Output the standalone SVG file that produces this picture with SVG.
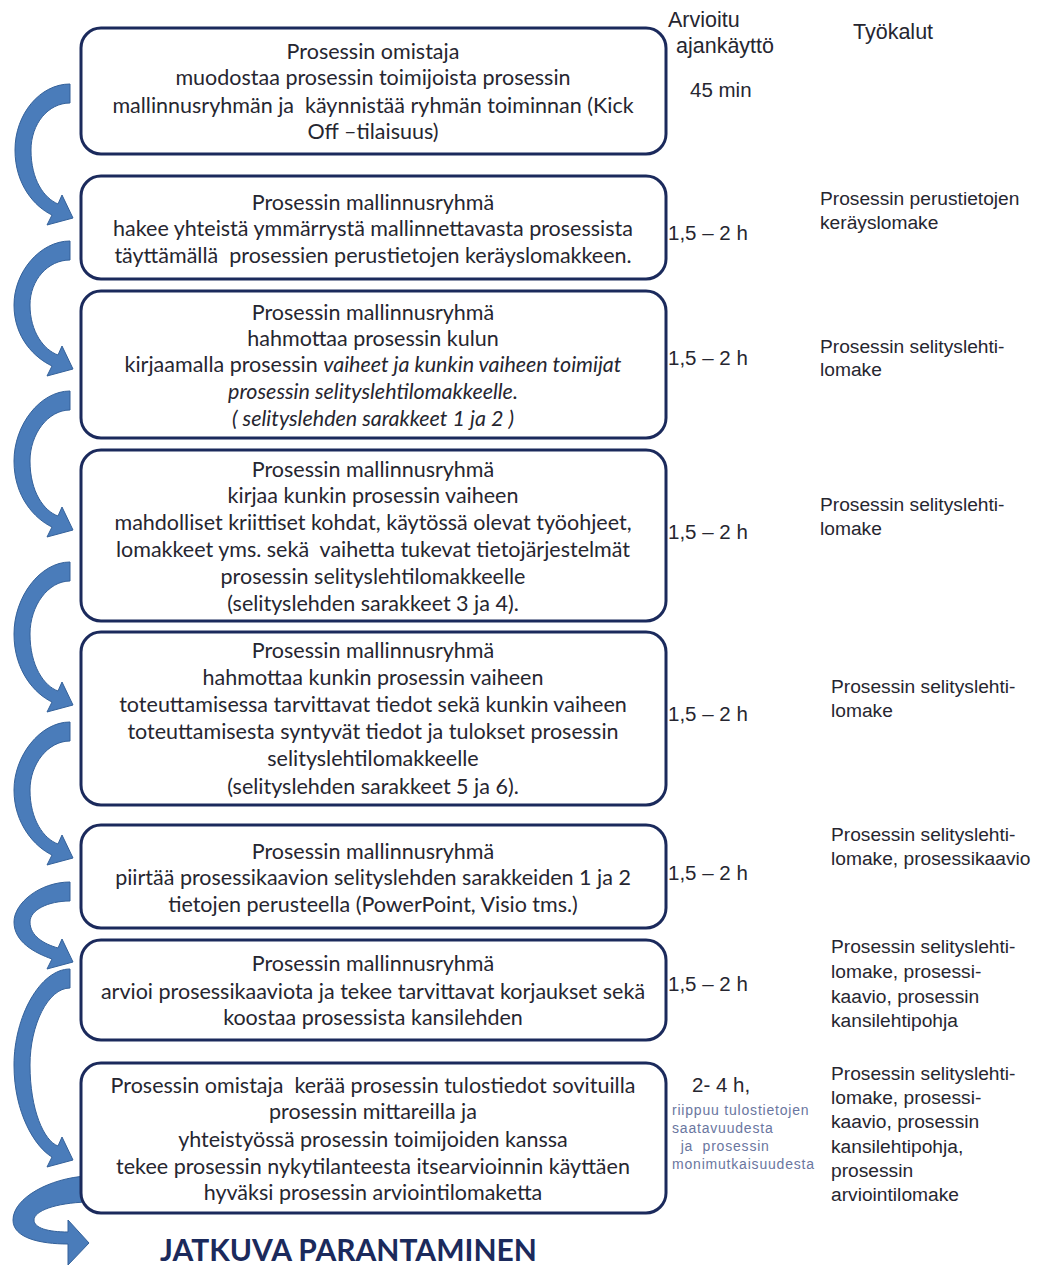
<svg xmlns="http://www.w3.org/2000/svg" width="1052" height="1265" viewBox="0 0 1052 1265">
<style>
.box{fill:#fff;stroke:#1b2a5c;stroke-width:3}
.bt{font-family:Lato,"Liberation Sans",sans-serif;font-size:21.5px;fill:#262630;text-anchor:middle;white-space:pre}
.it{font-style:italic}
.col{font-family:"Liberation Sans",Arial,sans-serif;font-size:19.2px;fill:#262630}
.hd{font-family:"Liberation Sans",Arial,sans-serif;font-size:21.5px;fill:#262630}
.tm{font-family:"Liberation Sans",Arial,sans-serif;font-size:20.5px;fill:#262630}
.sm{font-family:"Liberation Sans",Arial,sans-serif;font-size:14px;letter-spacing:0.8px;fill:#6a76a0;white-space:pre}
.arr{fill:#4a7cba;stroke:#34619a;stroke-width:1}
.big{font-family:Lato,"Liberation Sans",sans-serif;font-weight:bold;font-size:30px;fill:#1b2a5c}
</style>
<rect width="1052" height="1265" fill="#fff"/>
<g id="connectors">
<path class="arr" d="M70,84 C40,84 15,114 15,150 C15,185 35,207 52,215 L47,225 L73,218 L62,195 L58,204 C44,198 31,180 31,150 C31,124 48,103 70,103 Z"/>
<path class="arr" d="M70,241 C40,241 14,272 14,305 C14,338 35,358 52,366 L47,376 L73,369 L62,346 L58,355 C44,350 30,332 30,305 C30,280 48,260 70,260 Z"/>
<path class="arr" d="M70,391 C40,391 14,425 14,461 C14,497 35,519 52,527 L47,537 L73,530 L62,507 L58,516 C44,511 30,492 30,461 C30,434 48,410 70,410 Z"/>
<path class="arr" d="M70,562 C40,562 14,597 14,634 C14,671 35,694 52,702 L47,712 L73,705 L62,682 L58,691 C44,686 30,666 30,634 C30,606 48,581 70,581 Z"/>
<path class="arr" d="M70,722 C40,722 14,756 14,790 C14,824 35,847 52,855 L47,865 L73,858 L62,835 L58,844 C44,839 30,820 30,790 C30,764 48,741 70,741 Z"/>
<path class="arr" d="M70,882 C40,882 14,903 14,922 C14,942 35,953 52,959 L47,969 L73,962 L62,939 L58,948 C44,944 30,936 30,922 C30,910 48,901 70,901 Z"/>
<path class="arr" d="M70,969 C40,969 14,1017 14,1065 C14,1113 35,1147 52,1157 L47,1167 L73,1160 L62,1137 L58,1146 C44,1141 30,1110 30,1065 C30,1025 48,988 70,988 Z"/>
<path class="arr" d="M87,1176 C50,1178 13,1198 13,1220 C13,1238 40,1244 68,1244 L68,1265 L89,1243 L68,1220 L68,1232 C48,1232 34,1228 34,1220 C34,1211 55,1203 87,1202 Z"/>
</g>
<g id="step1">
<rect class="box" x="81" y="28" width="585" height="126" rx="20"/>
<text class="bt" x="373" y="59">Prosessin omistaja</text>
<text class="bt" x="373" y="85">muodostaa prosessin toimijoista prosessin</text>
<text class="bt" x="373" y="113">mallinnusryhmän ja  käynnistää ryhmän toiminnan (Kick</text>
<text class="bt" x="373" y="139">Off –tilaisuus)</text>
</g>
<g id="step2">
<rect class="box" x="81" y="176" width="585" height="103" rx="20"/>
<text class="bt" x="373" y="210">Prosessin mallinnusryhmä</text>
<text class="bt" x="373" y="236">hakee yhteistä ymmärrystä mallinnettavasta prosessista</text>
<text class="bt" x="373" y="263">täyttämällä  prosessien perustietojen keräyslomakkeen.</text>
</g>
<g id="step3">
<rect class="box" x="81" y="291" width="585" height="147" rx="20"/>
<text class="bt" x="373" y="320">Prosessin mallinnusryhmä</text>
<text class="bt" x="373" y="346">hahmottaa prosessin kulun</text>
<text class="bt" x="373" y="372">kirjaamalla prosessin <tspan class="it">vaiheet ja kunkin vaiheen toimijat</tspan></text>
<text class="bt it" x="373" y="399">prosessin selityslehtilomakkeelle.</text>
<text class="bt it" x="373" y="426">( selityslehden sarakkeet 1 ja 2 )</text>
</g>
<g id="step4">
<rect class="box" x="81" y="450" width="585" height="171" rx="20"/>
<text class="bt" x="373" y="477">Prosessin mallinnusryhmä</text>
<text class="bt" x="373" y="503">kirjaa kunkin prosessin vaiheen</text>
<text class="bt" x="373" y="530">mahdolliset kriittiset kohdat, käytössä olevat työohjeet,</text>
<text class="bt" x="373" y="557">lomakkeet yms. sekä  vaihetta tukevat tietojärjestelmät</text>
<text class="bt" x="373" y="584">prosessin selityslehtilomakkeelle</text>
<text class="bt" x="373" y="611">(selityslehden sarakkeet 3 ja 4).</text>
</g>
<g id="step5">
<rect class="box" x="81" y="632" width="585" height="173" rx="20"/>
<text class="bt" x="373" y="658">Prosessin mallinnusryhmä</text>
<text class="bt" x="373" y="685">hahmottaa kunkin prosessin vaiheen</text>
<text class="bt" x="373" y="712">toteuttamisessa tarvittavat tiedot sekä kunkin vaiheen</text>
<text class="bt" x="373" y="739">toteuttamisesta syntyvät tiedot ja tulokset prosessin</text>
<text class="bt" x="373" y="766">selityslehtilomakkeelle</text>
<text class="bt" x="373" y="794">(selityslehden sarakkeet 5 ja 6).</text>
</g>
<g id="step6">
<rect class="box" x="81" y="825" width="585" height="103" rx="20"/>
<text class="bt" x="373" y="859">Prosessin mallinnusryhmä</text>
<text class="bt" x="373" y="885">piirtää prosessikaavion selityslehden sarakkeiden 1 ja 2</text>
<text class="bt" x="373" y="912">tietojen perusteella (PowerPoint, Visio tms.)</text>
</g>
<g id="step7">
<rect class="box" x="81" y="940" width="585" height="100" rx="20"/>
<text class="bt" x="373" y="971">Prosessin mallinnusryhmä</text>
<text class="bt" x="373" y="999">arvioi prosessikaaviota ja tekee tarvittavat korjaukset sekä</text>
<text class="bt" x="373" y="1025">koostaa prosessista kansilehden</text>
</g>
<g id="step8">
<rect class="box" x="81" y="1063" width="585" height="150" rx="20"/>
<text class="bt" x="373" y="1093">Prosessin omistaja  kerää prosessin tulostiedot sovituilla</text>
<text class="bt" x="373" y="1119">prosessin mittareilla ja</text>
<text class="bt" x="373" y="1147">yhteistyössä prosessin toimijoiden kanssa</text>
<text class="bt" x="373" y="1174">tekee prosessin nykytilanteesta itsearvioinnin käyttäen</text>
<text class="bt" x="373" y="1200">hyväksi prosessin arviointilomaketta</text>
</g>
<g id="time">
<text class="hd" x="668" y="27">Arvioitu</text>
<text class="hd" x="676" y="53">ajankäyttö</text>
<text class="tm" x="690" y="97">45 min</text>
<text class="tm" x="668" y="240">1,5 – 2 h</text>
<text class="tm" x="668" y="365">1,5 – 2 h</text>
<text class="tm" x="668" y="539">1,5 – 2 h</text>
<text class="tm" x="668" y="721">1,5 – 2 h</text>
<text class="tm" x="668" y="880">1,5 – 2 h</text>
<text class="tm" x="668" y="991">1,5 – 2 h</text>
<text class="tm" x="692" y="1092">2- 4 h,</text>
<text class="sm" x="672" y="1115">riippuu tulostietojen</text>
<text class="sm" x="672" y="1133">saatavuudesta</text>
<text class="sm" x="676" y="1151"> ja  prosessin</text>
<text class="sm" x="672" y="1169">monimutkaisuudesta</text>
</g>
<g id="tools">
<text class="hd" x="853" y="39">Työkalut</text>
<text class="col" x="820" y="205">Prosessin perustietojen</text>
<text class="col" x="820" y="229">keräyslomake</text>
<text class="col" x="820" y="353">Prosessin selityslehti-</text>
<text class="col" x="820" y="376">lomake</text>
<text class="col" x="820" y="511">Prosessin selityslehti-</text>
<text class="col" x="820" y="535">lomake</text>
<text class="col" x="831" y="693">Prosessin selityslehti-</text>
<text class="col" x="831" y="717">lomake</text>
<text class="col" x="831" y="841">Prosessin selityslehti-</text>
<text class="col" x="831" y="865">lomake, prosessikaavio</text>
<text class="col" x="831" y="953">Prosessin selityslehti-</text>
<text class="col" x="831" y="978">lomake, prosessi-</text>
<text class="col" x="831" y="1003">kaavio, prosessin</text>
<text class="col" x="831" y="1027">kansilehtipohja</text>
<text class="col" x="831" y="1080">Prosessin selityslehti-</text>
<text class="col" x="831" y="1104">lomake, prosessi-</text>
<text class="col" x="831" y="1128">kaavio, prosessin</text>
<text class="col" x="831" y="1153">kansilehtipohja,</text>
<text class="col" x="831" y="1177">prosessin</text>
<text class="col" x="831" y="1201">arviointilomake</text>
</g>
<text class="big" x="160" y="1261">JATKUVA PARANTAMINEN</text>
</svg>
